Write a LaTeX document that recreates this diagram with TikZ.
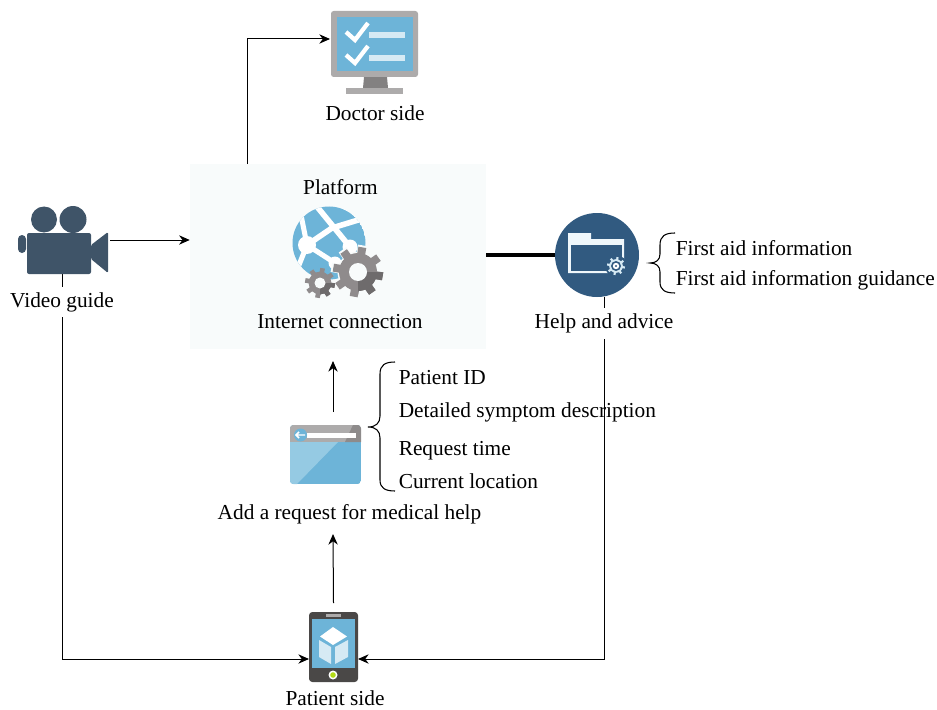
\documentclass[tikz,border=0pt]{standalone}
\usepackage{fontspec}
\usetikzlibrary{arrows.meta}
\setmainfont{Liberation Serif}
\definecolor{platformbg}{HTML}{F8FBFB}
\definecolor{iconblue}{HTML}{6DB4D8}
\definecolor{iconlight}{HTML}{95CAE3}
\definecolor{barblue}{HTML}{D6EAF4}
\definecolor{framegray}{HTML}{ADABAB}
\definecolor{standgray}{HTML}{838181}
\definecolor{cameraslate}{HTML}{3F5468}
\definecolor{helpblue}{HTML}{315A80}
\definecolor{phonedark}{HTML}{4A4847}
\definecolor{gearlight}{HTML}{8F8B8C}
\definecolor{geardark}{HTML}{6E6B6C}
\tikzset{
  link/.style={-{Stealth[length=8pt,width=7pt]},line width=0.75pt},
  lbl/.style={font=\fontsize{16}{18}\selectfont,inner sep=0pt},
  cutlbl/.style={lbl,fill=white,minimum height=23pt},
  item/.style={lbl,anchor=base west},
  bracket/.style={line width=0.8pt},
}
% gear: centre, radius, tooth width, number of teeth, colour
\newcommand{\gearicon}[5]{
  \fill[#5] (#1) circle (#2*0.76);
  \pgfmathsetmacro{\gearstep}{360/#4}
  \foreach \k in {1,...,#4}
    \draw[#5,line width=#3] (#1) -- ++(\k*\gearstep+10:#2);
}
\begin{document}
\begin{tikzpicture}[x=0.75pt,y=-0.75pt]
\useasboundingbox (0,0) rectangle (937,709);
\node[fill=platformbg,minimum width=222pt,minimum height=138pt,inner sep=0pt] at (338,256.5) (platform){};

% named ends of the connectors
\coordinate (doctorin) at (330,39);
\coordinate (videoout) at (110,240);
\coordinate (videodown) at (62,273);
\coordinate (helpdown) at (604,297);
\coordinate (phoneleft) at (309,659);
\coordinate (phoneright) at (358,659);
\coordinate (requp) at (333,412);
\coordinate (reqtop) at (333,361);
\coordinate (reqin) at (333,534);

\node[fill=helpblue,circle,minimum size=63pt,inner sep=0pt] at (597,255) (help){};
\node[fill=phonedark,rounded corners=2.5pt,minimum width=36.75pt,minimum height=52.5pt,inner sep=0pt] at (333.5,647) (phone){};
\node[lbl] at (349.5,514) (reqlabel){Add a request for medical help};

\draw[link] ([xshift=43.5pt]platform.north west) |- (doctorin);
\draw[link] (videoout) -- (videoout -| platform.west);
\draw[link] (videodown) |- (phoneleft); %down to patient
\draw[link] (helpdown) |- (phoneright); %back to patient
\draw[link] (requp) -- (reqtop);
\draw[link] ([yshift=6.5pt]phone.north) -- (reqin);
\draw[line width=2.4pt] (help.west -| platform.east) -- (help.west);

\node[cutlbl] at (62,302) (videolabel){Video guide};
\node[cutlbl] at (604,323.5) (helplabel){Help and advice};
\node[lbl] at (375,113.5) (doctorlabel){Doctor side};
\node[lbl] at (340.5,187.5) (platformlabel){Platform};
\node[lbl] at (340,321.5) (internetlabel){Internet connection};
\node[lbl] at (335,698.5) (patientlabel){Patient side};

\node[item] at (675.5,255.5) (aidinfo){First aid information};
\node[item] at (675.5,285.5) (aidguide){First aid information guidance};
\node[item] at (398.5,384.5) (patientid){Patient ID};
\node[item] at (398.5,417.5) (symptom){Detailed symptom description};
\node[item] at (398.5,455.5) (reqtime){Request time};
\node[item] at (398.5,488.5) (location){Current location};

\draw[bracket] (675,233) .. controls (665,233) and (660,236) .. (660,245) -- (660,254) .. controls (660,260) and (656,263) .. (650,263) .. controls (656,263) and (660,266) .. (660,272) -- (660,282) .. controls (660,290) and (665,293) .. (675,293);
\draw[bracket] (395,362) .. controls (385,362) and (380,365) .. (380,374) -- (380,416) .. controls (380,423) and (376,427) .. (368,427) .. controls (376,427) and (380,431) .. (380,438) -- (380,480) .. controls (380,488) and (385,491) .. (395,491);

% doctor monitor
\fill[standgray] (364,77) -- (387,77) -- (388,88) -- (363,88) -- cycle;
\fill[framegray] (346,88) rectangle (403,94);
\node[fill=framegray,rounded corners=2pt,minimum width=65.25pt,minimum height=49.5pt,inner sep=0pt] at (374.5,44) (doctor){};
\fill[iconblue] (337,17) rectangle (413,71);
\foreach \y in {0,23}{
  \draw[white,line width=3.2pt] (346,32+\y) -- (355,40+\y) -- (368,23+\y);
  \fill[barblue] (369,32+\y) rectangle (405,38.5+\y);
}

% video camera
\fill[cameraslate] (44,219.5) circle (13);
\fill[cameraslate] (73,219.5) circle (13.5);
\fill[cameraslate,rounded corners=1.5pt] (27,233) rectangle (91,274);
\fill[cameraslate,rounded corners=3pt] (18,235) rectangle (26,253);
\fill[cameraslate,rounded corners=1pt] (91,245) -- (108,232) -- (108,273) -- (91,259) -- cycle;

% globe with gears
\begin{scope}
\clip (329,243) circle (36.5);
\fill[iconblue] (329,243) circle (36.5);
\draw[white,line width=4.2pt] (314,203) -- (350,247);
\draw[white,line width=4.2pt] (307,245) -- (332,228) -- (368,217);
\draw[white,line width=3.8pt] (307,245) -- (335,263);
\draw[white,line width=3.8pt] (307,245) -- (299,205);
\draw[white,line width=3.8pt] (307,245) -- (297,270);
\fill[white] (307,245) circle (9);
\fill[white] (350,247) circle (7.5);
\fill[white] (335,263) circle (6.5);
\end{scope}
\gearicon{358,272}{27}{7pt}{8}{platformbg}
\begin{scope}
\gearicon{358,272}{25}{6pt}{8}{gearlight}
\clip (358,272) rectangle (390,305);
\gearicon{358,272}{25}{6pt}{8}{geardark}
\end{scope}
\fill[platformbg] (358,272) circle (9);
\gearicon{320,283}{15}{3.5pt}{8}{gearlight}
\begin{scope}
\clip (320,283) rectangle (340,305);
\gearicon{320,283}{15}{3.5pt}{8}{geardark}
\end{scope}
\fill[platformbg] (320,283) circle (5.5);

% help folder
\fill[barblue!40!white] (568,233) -- (591,233) -- (591,239) -- (624,239) -- (624,273) -- (568,273) -- cycle;
\fill[helpblue] (570.5,245) rectangle (621.5,270.5);
\fill[helpblue] (616,266) circle (11);
\gearicon{616,266}{9}{1.6pt}{8}{barblue}
\fill[helpblue] (616,266) circle (5);
\fill[white] (616,266) circle (3.2);
\fill[helpblue] (616,266) circle (1.2);

% request window
\begin{scope}
\clip[rounded corners=2.5pt] (290,425) rectangle (361,484);
\fill[iconblue] (290,425) rectangle (361,484);
\fill[iconlight] (290,442) -- (338,442) -- (297,484) -- (290,484) -- cycle;
\fill[framegray] (290,425) rectangle (361,442);
\fill[standgray!75!framegray] (345,442) -- (353,425) -- (361,425) -- (361,442) -- cycle;
\end{scope}
\fill[white] (307,433) rectangle (356,437.5);
\fill[iconblue] (300.5,435) circle (6.5);
\draw[white,line width=1.1pt] (296,435) -- (305,435) (299,432) -- (296,435) -- (299,438);

% patient phone
\fill[iconblue] (312,619) rectangle (355,668);
\fill[framegray] (326,614) rectangle (341,616.5);
\fill[white] (333,627) -- (347,636.5) -- (333,645) -- (320,636.5) -- cycle;
\fill[barblue] (319,640) -- (331,647) -- (331,664) -- (319,657) -- cycle;
\fill[barblue] (335,647) -- (348,640) -- (348,657) -- (335,664) -- cycle;
\fill[white] (333,675) circle (4.5);
\fill[yellow!70!green] (333,675) circle (2.8);
\end{tikzpicture}
\end{document}
